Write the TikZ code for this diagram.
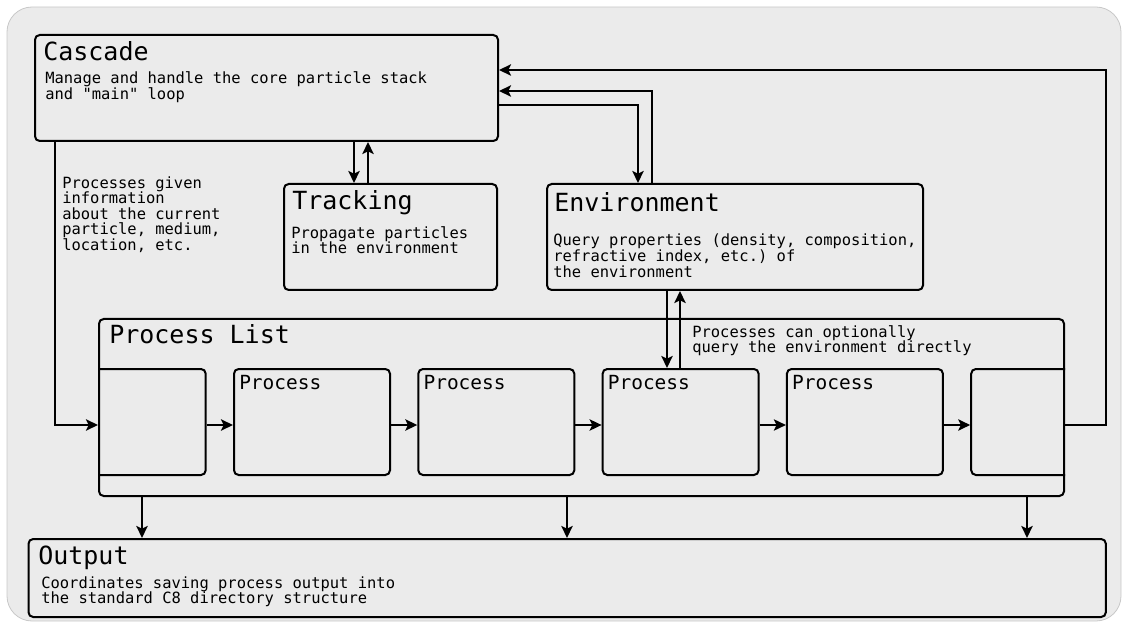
\documentclass[tikz,border=0pt]{standalone}
\usepackage{fontspec}
\setmonofont{DejaVu Sans Mono}
\usetikzlibrary{arrows.meta}
\definecolor{panel}{HTML}{EBEBEB}
\definecolor{rim}{HTML}{C8C8C8}
\tikzstyle{box} = [rectangle, draw=black, line width=1.5pt, rounded corners=3.5pt, inner sep=0pt, anchor=north west]
\tikzstyle{title} = [inner sep=0pt, anchor=base west, font=\ttfamily\fontsize{18.75}{20}\selectfont]
\tikzstyle{ptitle} = [inner sep=0pt, anchor=base west, font=\ttfamily\fontsize{14.6}{16}\selectfont]
% multi-line: base is the last line
\tikzstyle{desc} = [inner sep=0pt, anchor=base west, align=left, font=\ttfamily\fontsize{11.6}{11.7}\selectfont]
\tikzstyle{arrow} = [line width=1.5pt, -{Stealth[length=9pt, width=8.5pt, inset=2pt]}]

\begin{document}
\begin{tikzpicture}[x=0.75pt, y=-0.75pt]
      \useasboundingbox (0,0) rectangle (1122,624);
      \draw [rim, fill=panel, line width=0.6pt, rounded corners=18.75pt] (7,7) rectangle (1121,621);

      % boxes
      \node (casc) [box, minimum width=347.25pt, minimum height=79.5pt] at (34,34) {};
      \node (track) [box, minimum width=159.75pt, minimum height=79.5pt] at (283,183) {};
      \node (env) [box, minimum width=282pt, minimum height=79.5pt] at (546,183) {};
      \node (plist) [box, minimum width=723.75pt, minimum height=132.75pt] at (98,318) {};
      \node (out) [box, minimum width=808pt, minimum height=58.5pt] at (27.5,538) {};

      \begin{scope}
        \clip (plist.north west) rectangle (plist.south east);
        \foreach \i in {1,...,6}
          \node (p\i) [box, minimum width=117pt, minimum height=79.5pt] at ({48.7+(\i-1)*184.3},368) {};
      \end{scope}

      % texts
      \node [title] at ([shift={(9,27)}]casc.north west) {Cascade};
      \node [desc] at ([shift={(11,65.6)}]casc.north west) {Manage and handle the core particle stack\\and "main" loop};
      \node [title] at ([shift={(9,27)}]track.north west) {Tracking};
      \node [desc] at ([shift={(8,70.6)}]track.north west) {Propagate particles\\in the environment};
      \node [title] at ([shift={(8,29)}]env.north west) {Environment};
      \node [desc] at ([shift={(7,94.2)}]env.north west) {Query properties (density, composition,\\refractive index, etc.) of\\the environment};
      \node [title] at ([shift={(11,26)}]plist.north west) {Process List};
      \foreach \i in {2,...,5}
        \node [ptitle] at ([shift={(6,21)}]p\i.north west) {Process};
      \node [title] at ([shift={(10.5,26)}]out.north west) {Output};
      \node [desc] at ([shift={(13.5,65.6)}]out.north west) {Coordinates saving process output into\\the standard C8 directory structure};
      \node (info) [desc] at (62,250.4) {Processes given\\information\\about the current\\particle, medium,\\location, etc.};
      \node (query) [desc] at (692,352.6) {Processes can optionally\\query the environment directly};

      % connectors
      \coordinate (row) at (0,425);
      \draw [arrow] (55,0 |- casc.south) |- (plist.west |- row);
      \foreach \i/\j in {1/2,2/3,3/4,4/5,5/6}
        \draw [arrow] (p\i.east |- row) -- (p\j.west |- row);
      \draw [arrow] (plist.east |- row) -| (1106,70) -- (casc.east |- 0,70);

      \draw [arrow] (354,0 |- casc.south) -- (354,0 |- track.north);
      \draw [arrow] (368,0 |- track.north) -- (368,0 |- casc.south);

      \draw [arrow] (casc.east |- 0,105) -| (638,0 |- env.north);
      \draw [arrow] (652,0 |- env.north) |- (casc.east |- 0,91);

      \draw [arrow] (667,0 |- env.south) -- (667,0 |- p4.north);
      \draw [arrow] (680,0 |- p4.north) -- (680,0 |- env.south);

      \foreach \x in {142,567,1027}
        \draw [arrow] (\x,0 |- plist.south) -- (\x,0 |- out.north);
    \end{tikzpicture}
\end{document}
